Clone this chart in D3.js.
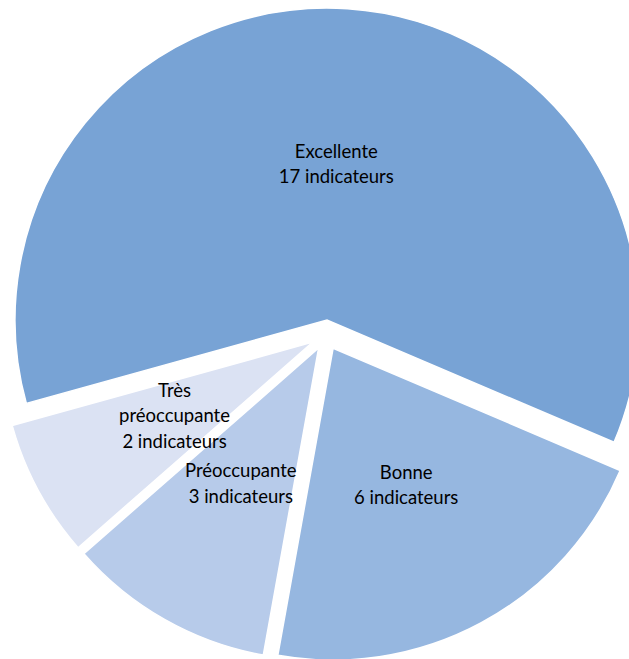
<!DOCTYPE html>
<html><head><meta charset="utf-8">
<script src="https://cdn.jsdelivr.net/npm/d3@7"></script>
<style>html,body{margin:0;padding:0;background:#fff;overflow:hidden}</style>
</head><body>
<svg id="chart" width="629" height="659"></svg>
<script>
const categories = ["Excellente", "Bonne", "Préoccupante", "Très préoccupante"];
const values = [17, 6, 3, 2];
const labelLines = [["Excellente", "17 indicateurs"], ["Bonne", "6 indicateurs"], ["Préoccupante", "3 indicateurs"], ["Très", "préoccupante", "2 indicateurs"]];
const colors = ["#78A3D5", "#96B7E0", "#B7CBEA", "#DBE2F3"];

const svg = d3.select("#chart");
const cx = 326, cy = 335, r = 312, explode = 15;
const startDeg = -105.5;
const pie = d3.pie().sort(null).value(d => d.v)
  .startAngle(startDeg * Math.PI / 180)
  .endAngle(startDeg * Math.PI / 180 + 2 * Math.PI);
const data = categories.map((c, i) => ({ c, v: values[i], lines: labelLines[i], color: colors[i] }));
const arcs = pie(data);
const arc = d3.arc().innerRadius(0).outerRadius(r);

const g = svg.append("g").attr("transform", `translate(${cx},${cy})`);
const slices = g.selectAll("g.slice").data(arcs).join("g").attr("class", "slice")
  .attr("transform", d => {
    const a = (d.startAngle + d.endAngle) / 2;
    return `translate(${explode * Math.sin(a)},${-explode * Math.cos(a)})`;
  });
slices.append("path").attr("d", arc).attr("fill", d => d.data.color)
  .attr("stroke", "#fff").attr("stroke-width", 1.5);

slices.each(function(d) {
  const [x, y] = arc.centroid(d);
  const n = d.data.lines.length;
  const t = d3.select(this).append("text")
    .attr("text-anchor", "middle")
    .attr("font-family", "Lato, 'Open Sans', sans-serif")
    .attr("font-size", 18.5)
    .attr("fill", "#000");
  d.data.lines.forEach((ln, i) => {
    t.append("tspan").attr("x", x - 1).attr("y", y + (i - (n - 1) / 2) * 25.5 + 6).text(ln);
  });
});
</script>
</body></html>
